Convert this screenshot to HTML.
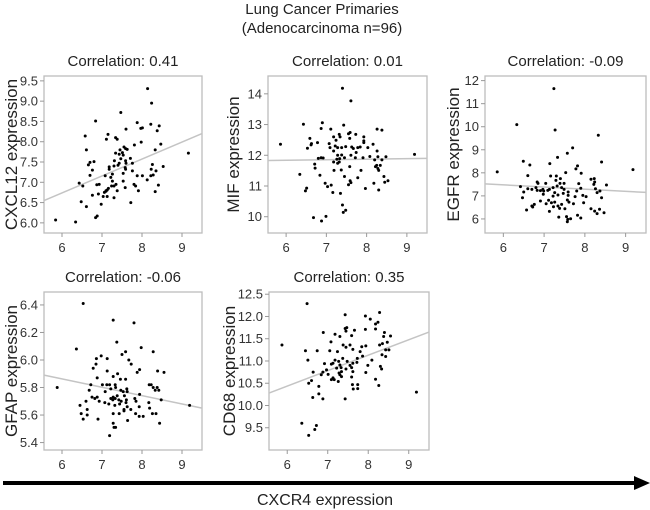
<!DOCTYPE html>
<html><head><meta charset="utf-8"><style>
body{margin:0;background:#fff;}
svg{display:block;font-family:"Liberation Sans",Arial,sans-serif;}
</style></head><body>
<svg id="chart" width="650" height="510" xmlns="http://www.w3.org/2000/svg">
<text x="322" y="14" font-size="15" text-anchor="middle" fill="#222">Lung Cancer Primaries</text>
<text x="322" y="33" font-size="15" text-anchor="middle" fill="#222">(Adenocarcinoma n=96)</text>
<line x1="3" y1="483" x2="636" y2="483" stroke="#000" stroke-width="4"/>
<polygon points="634,476 650,483 634,490" fill="#000"/>
<text x="325" y="505" font-size="16" text-anchor="middle" fill="#222">CXCR4 expression</text>
</svg>
<script>
const xTicks=[6,7,8,9];
const panelTitles=["Correlation: 0.41","Correlation: 0.01","Correlation: -0.09","Correlation: -0.06","Correlation: 0.35"];
const yTitles=["CXCL12 expression","MIF expression","EGFR expression","GFAP expression","CD68 expression"];
const yTicks1=[6.0,6.5,7.0,7.5,8.0,8.5,9.0,9.5];
const yTicks2=[10,11,12,13,14];
const yTicks3=[6,7,8,9,10,11,12];
const yTicks4=[5.4,5.6,5.8,6.0,6.2,6.4];
const yTicks5=[9.5,10.0,10.5,11.0,11.5,12.0,12.5];
const fitStart=[6.55,11.83,7.52,5.89,10.28];
const fitEnd=[8.2,11.9,7.15,5.65,11.65];
const x1=[5.84,6.34,6.84,6.88,6.48,6.61,6.76,6.91,7.03,7.06,7.10,7.13,7.16,6.98,7.13,7.30,6.43,6.52,6.70,6.87,6.93,7.08,7.22,7.26,7.26,7.24,7.30,7.35,7.38,7.53,7.58,7.72,7.53,7.59,7.58,7.18,7.30,7.40,7.43,7.31,7.47,7.59,7.60,7.71,7.76,7.88,7.91,7.80,7.84,7.76,7.34,7.43,7.51,7.53,7.59,7.55,7.63,7.45,7.81,7.98,7.97,7.60,7.88,8.01,8.22,8.43,8.38,8.47,8.33,8.26,8.23,8.35,8.28,8.22,8.13,8.53,8.41,8.33,8.14,8.24,7.47,6.84,6.58,6.61,6.80,6.70,6.66,6.76,7.15,7.11,7.34,7.38,9.16,8.01,7.10,7.18];
const y1=[6.07,6.02,6.13,6.17,6.52,6.40,6.68,6.71,6.65,6.75,6.78,6.81,6.85,6.46,6.65,6.62,6.98,6.91,7.17,6.94,6.95,7.16,7.12,7.20,7.03,6.91,6.91,6.95,6.79,7.03,6.87,6.50,7.22,7.32,7.36,7.38,7.40,7.42,7.47,7.53,7.58,7.53,7.47,7.59,7.47,7.16,6.79,6.95,6.91,7.28,7.72,7.69,7.73,7.67,7.83,7.87,7.81,7.80,7.92,7.99,8.33,8.31,8.47,8.34,8.43,8.39,8.27,7.94,7.80,7.44,7.32,7.28,7.18,7.16,7.06,7.39,6.93,6.77,9.31,8.95,8.72,8.51,8.14,7.80,7.51,7.49,7.43,7.30,8.18,8.06,8.10,8.06,7.72,7.16,6.79,7.32];
const x2=[7.40,7.61,6.43,6.90,6.87,7.11,7.43,6.59,6.63,6.62,6.53,6.78,5.86,7.18,7.24,7.32,7.34,7.07,7.09,7.22,7.28,7.18,7.38,7.48,7.58,7.55,7.59,7.73,7.93,7.93,7.93,7.63,7.67,7.78,7.84,8.03,8.16,8.26,8.38,8.26,7.28,7.38,7.61,7.26,7.33,7.45,7.74,7.72,7.91,8.08,8.28,8.38,8.48,8.20,6.80,6.87,6.92,6.71,6.72,7.18,7.28,7.32,7.58,7.37,7.19,7.86,8.25,8.34,8.28,8.30,8.22,6.34,6.84,7.45,7.59,7.61,7.55,7.78,8.43,8.45,8.53,8.18,6.97,7.03,7.12,6.51,6.48,7.16,7.35,7.97,8.30,7.40,7.48,7.42,6.68,6.88,6.99,9.19];
const y2=[14.18,13.77,13.01,13.06,12.87,12.85,12.98,12.55,12.38,12.34,12.23,12.41,12.36,12.60,12.49,12.68,12.60,12.38,12.25,12.30,12.25,12.14,12.25,12.28,12.55,12.70,12.74,12.68,12.60,12.47,12.41,12.27,12.22,12.25,12.27,12.25,12.36,12.85,12.82,12.14,12.00,12.01,12.00,11.87,11.89,11.92,12.09,11.92,11.92,11.96,11.95,11.85,11.95,11.85,11.90,11.92,11.91,11.71,11.58,11.78,11.74,11.78,11.63,11.52,11.51,11.51,11.67,11.67,11.57,11.51,11.63,11.38,11.35,11.31,11.17,11.11,11.04,11.27,11.31,11.12,11.17,11.09,11.09,10.98,11.03,10.93,10.84,10.79,10.76,10.92,10.87,10.38,10.21,10.14,9.97,9.86,10.01,12.03];
const x3=[7.24,6.33,7.27,8.33,5.85,9.18,7.70,7.57,7.33,6.49,6.65,7.14,8.41,7.82,7.78,7.53,7.91,6.60,7.16,7.30,7.40,7.29,8.15,8.23,8.24,6.83,6.85,7.04,7.39,7.49,7.85,8.53,8.22,6.42,6.60,6.70,6.83,6.91,6.97,7.09,7.13,7.22,7.32,7.43,7.49,7.90,8.26,8.37,8.30,6.50,6.98,7.26,7.34,7.47,7.59,7.59,7.76,7.95,8.03,8.41,6.47,6.91,7.11,7.18,7.26,7.57,7.61,7.72,7.97,7.43,6.76,6.70,6.72,7.34,7.23,7.38,6.57,7.13,7.51,8.15,8.24,8.36,8.47,8.30,7.36,7.55,7.58,7.65,7.57,7.82,7.90,6.99,6.80,7.22,7.05,7.80];
const y3=[11.65,10.09,9.86,9.63,8.04,8.14,9.08,8.85,8.67,8.50,8.34,8.40,8.47,8.30,8.17,8.01,7.98,7.88,7.86,7.86,7.75,7.67,7.72,7.75,7.60,7.60,7.54,7.54,7.54,7.54,7.53,7.47,7.50,7.40,7.31,7.28,7.24,7.23,7.28,7.24,7.28,7.36,7.43,7.36,7.28,7.33,7.31,7.21,7.14,7.17,7.07,7.14,7.04,7.11,7.17,7.02,6.97,7.02,6.97,6.92,6.92,6.78,6.81,6.70,6.73,6.82,6.73,6.66,6.70,6.63,6.63,6.56,6.52,6.56,6.53,6.46,6.39,6.33,6.44,6.44,6.34,6.42,6.27,6.23,6.08,6.10,5.98,6.01,5.88,6.16,6.04,7.21,7.36,6.99,6.66,7.21];
const x4=[6.53,7.28,7.80,6.36,7.37,7.98,8.28,7.59,7.50,6.98,6.86,7.13,7.67,7.73,6.85,6.78,7.13,7.94,7.88,8.39,8.55,6.88,7.28,7.39,7.46,7.59,7.01,7.12,7.19,7.33,6.72,6.68,7.08,7.22,7.34,7.47,7.53,7.62,7.63,8.18,8.23,8.28,8.33,8.38,8.42,7.94,5.88,6.88,6.75,6.82,7.28,7.33,7.27,7.38,7.42,7.48,7.56,7.61,7.60,7.82,7.85,6.60,7.07,6.93,7.17,7.32,7.44,7.55,7.72,7.63,6.45,6.63,6.48,6.53,6.63,6.90,7.28,7.43,7.55,7.93,7.84,7.93,8.03,8.17,8.19,8.26,8.35,8.44,8.48,9.19,7.28,7.30,7.34,7.19,7.64,7.22];
const y4=[6.41,6.29,6.27,6.08,6.13,6.09,6.06,6.06,6.04,6.03,6.01,6.01,6.00,5.97,5.97,5.94,5.92,5.93,5.91,5.92,5.91,5.87,5.88,5.90,5.86,5.86,5.82,5.82,5.82,5.82,5.82,5.78,5.77,5.79,5.80,5.78,5.77,5.79,5.77,5.82,5.82,5.80,5.78,5.80,5.78,5.75,5.80,5.73,5.73,5.72,5.73,5.72,5.71,5.74,5.71,5.70,5.74,5.71,5.69,5.72,5.70,5.70,5.69,5.70,5.68,5.67,5.68,5.64,5.64,5.66,5.67,5.64,5.61,5.57,5.60,5.57,5.61,5.61,5.63,5.66,5.61,5.59,5.59,5.69,5.65,5.61,5.61,5.54,5.71,5.67,5.54,5.51,5.51,5.45,5.56,5.72];
const x5=[6.49,7.43,7.93,8.05,8.28,8.24,8.18,5.87,6.45,6.74,6.89,7.18,7.30,7.43,7.47,7.45,7.59,7.66,7.93,8.18,8.40,8.38,8.55,8.47,8.35,8.28,8.43,8.34,8.43,7.08,7.05,7.24,7.38,7.45,7.55,7.62,7.80,7.84,7.94,7.86,7.72,7.99,7.62,7.55,7.59,7.48,7.37,7.27,7.30,7.33,7.18,7.13,7.09,6.92,6.97,6.88,6.84,6.64,7.01,7.13,7.16,7.26,7.28,7.34,7.45,7.62,7.59,7.94,8.30,8.33,8.18,8.26,7.61,7.74,7.63,7.74,6.60,6.53,6.78,6.63,6.78,6.88,7.43,9.19,6.36,6.72,6.68,6.53,6.51,7.22,7.30,7.09,7.73,8.09,8.51,7.34];
const y5=[12.29,12.04,12.01,11.94,12.09,11.87,11.83,11.36,11.23,11.23,11.64,11.60,11.55,11.73,11.75,11.67,11.57,11.69,11.71,11.72,11.64,11.55,11.56,11.42,11.39,11.36,11.25,11.14,11.10,11.43,11.23,11.21,11.36,11.31,11.36,11.26,11.21,11.32,11.34,11.11,10.97,10.90,10.95,10.90,10.85,10.99,11.06,10.99,10.91,10.85,11.02,10.95,10.93,10.94,10.80,10.75,10.69,10.75,10.70,10.62,10.58,10.54,10.73,10.76,10.82,10.76,10.64,10.74,10.88,10.82,10.59,10.45,10.47,10.47,10.37,10.38,10.56,10.50,10.43,10.18,10.26,10.15,10.15,10.30,9.60,9.55,9.46,9.33,11.02,10.84,10.69,10.58,11.06,11.02,11.25,10.65];

const yTicksAll=[yTicks1,yTicks2,yTicks3,yTicks4,yTicks5];
const xs=[x1,x2,x3,x4,x5], ys=[y1,y2,y3,y4,y5];
const names=["cxcl12","mif","egfr","gfap","cd68"];
const decimals=[1,0,0,1,1];
// layout (pixel geometry, not data)
const L=[
 {l:44,t:76,w:158,h:157,yd:[5.75,9.62],tx:11},
 {l:268,t:76,w:159,h:157,yd:[9.47,14.58],tx:233},
 {l:485,t:76,w:161,h:157,yd:[5.39,12.2],tx:453},
 {l:44,t:292,w:158,h:158,yd:[5.346,6.494],tx:11},
 {l:269,t:292,w:160,h:158,yd:[9.0,12.55],tx:229}
];
const XD=[5.55,9.5];
const NS="http://www.w3.org/2000/svg";
const svg=document.getElementById('chart');
function mk(tag,attrs,parent){const e=document.createElementNS(NS,tag);for(const k in attrs)e.setAttribute(k,attrs[k]);(parent||svg).appendChild(e);return e;}
L.forEach((p,i)=>{
  const g=mk('g',{});
  
  
  const sx=v=>p.l+(v-XD[0])/(XD[1]-XD[0])*p.w;
  const sy=v=>p.t+p.h-(v-p.yd[0])/(p.yd[1]-p.yd[0])*p.h;
  const fr=mk('rect',{x:p.l,y:p.t,width:p.w,height:p.h,fill:'#fff',stroke:'#bdbdbd','stroke-width':1.3},g);
  
  
  const tt=mk('text',{x:p.l+p.w/2,y:p.t-10,'font-size':15,'text-anchor':'middle',fill:'#222'},g);
  tt.textContent=panelTitles[i];
  
  
  const yt=mk('text',{x:p.tx,y:p.t+p.h/2,'font-size':17,'text-anchor':'middle',fill:'#222',transform:`rotate(-90 ${p.tx} ${p.t+p.h/2})`,dy:6},g);
  yt.textContent=yTitles[i];
  
  
  yTicksAll[i].forEach(v=>{
    const y=sy(v);
    mk('line',{x1:p.l-4,x2:p.l,y1:y,y2:y,stroke:'#999'},g);
    const t=mk('text',{x:p.l-6,y:y+4.5,'font-size':13,'text-anchor':'end',fill:'#333'},g);
    t.textContent=v.toFixed(decimals[i]);
    
    
  });
  xTicks.forEach(v=>{
    const x=sx(v);
    mk('line',{x1:x,x2:x,y1:p.t+p.h,y2:p.t+p.h+4,stroke:'#999'},g);
    const t=mk('text',{x:x,y:p.t+p.h+19,'font-size':13,'text-anchor':'middle',fill:'#333'},g);
    t.textContent=String(v);
    
    
  });
  const fl=mk('line',{x1:sx(XD[0]),y1:sy(fitStart[i]),x2:sx(XD[1]),y2:sy(fitEnd[i]),stroke:'#c4c4c4','stroke-width':1.5},g);
  
  
  xs[i].forEach((xv,j)=>{
    const c=mk('circle',{cx:sx(xv),cy:sy(ys[i][j]),r:1.5,fill:'#000'},g);
    
    
  });
});
</script>
</body></html>
